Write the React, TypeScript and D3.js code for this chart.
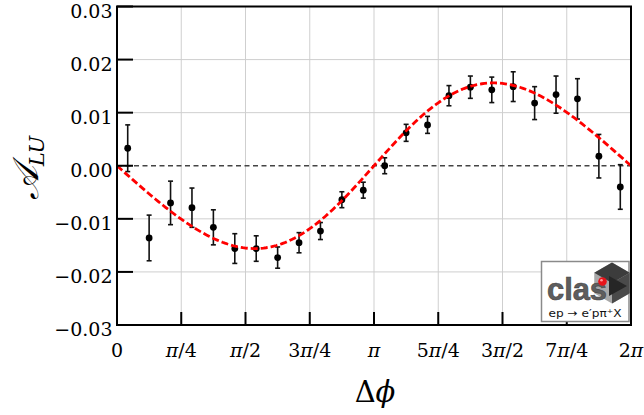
import React from "react";
import * as d3 from "d3";

// Bin centres in degrees
const binCentersDeg = [7.5, 22.5, 37.5, 52.5, 67.5, 82.5, 97.5, 112.5, 127.5, 142.5, 157.5, 172.5,
  187.5, 202.5, 217.5, 232.5, 247.5, 262.5, 277.5, 292.5, 307.5, 322.5, 337.5, 352.5];
const asymValues = [0.0033, -0.0136, -0.0070, -0.0079, -0.0116, -0.0156, -0.0156, -0.0173, -0.0145, -0.0123, -0.0064, -0.0046,
  0.0000, 0.0062, 0.0077, 0.0132, 0.0148, 0.0143, 0.0149, 0.0118, 0.0134, 0.0126, 0.0018, -0.0040];
const asymErrors = [0.0044, 0.0043, 0.0041, 0.0037, 0.0033, 0.0028, 0.0024, 0.0020, 0.0019, 0.0016, 0.0015, 0.0015,
  0.0015, 0.0016, 0.0016, 0.0019, 0.0021, 0.0024, 0.0028, 0.0031, 0.0035, 0.0038, 0.0041, 0.0042];
// Fit: A_LU = p1 sin(phi) + p2 sin(2 phi)
const fitParams = [-0.0155, 0.0009];

const yTicks = [0.03, 0.02, 0.01, 0.0, -0.01, -0.02, -0.03];
const yTickLabels = ["0.03", "0.02", "0.01", "0.00", "\u22120.01", "\u22120.02", "\u22120.03"];
const xTickNums = [0, 1, 2, 3, 4, 5, 6, 7, 8]; // multiples of pi/4
const xTickLabels: [string, string, string][] = [
  ["0", "", ""], ["", "\u03c0", "/4"], ["", "\u03c0", "/2"], ["3", "\u03c0", "/4"], ["", "\u03c0", ""],
  ["5", "\u03c0", "/4"], ["3", "\u03c0", "/2"], ["7", "\u03c0", "/4"], ["2", "\u03c0", ""],
];

const W = 644, H = 415;
const L = 117, R = 631, T = 6.5, B = 325;
const serif = "'DejaVu Serif', 'Liberation Serif', 'Times New Roman', serif";
const sans = "'Liberation Sans', Arial, sans-serif";

export default function App() {
  const x = d3.scaleLinear().domain([0, 2 * Math.PI]).range([L, R]);
  const y = d3.scaleLinear().domain([-0.03, 0.03]).range([B, T]);

  const fitPts = d3.range(0, 201).map((i) => (i / 200) * 2 * Math.PI);
  const fitLine = d3.line<number>()
    .x((p) => x(p))
    .y((p) => y(fitParams[0] * Math.sin(p) + fitParams[1] * Math.sin(2 * p)));

  const pts = binCentersDeg.map((d, i) => ({ phi: (d * Math.PI) / 180, v: asymValues[i], e: asymErrors[i] }));

  // logo geometry
  const hx = 612, hy = 283, hr = 20.5;
  const hex = d3.range(6).map((k) => {
    const a = ((-90 + 60 * k) * Math.PI) / 180;
    return [hx + hr * Math.cos(a), hy + hr * Math.sin(a)];
  });
  const poly = (p: number[][]) => p.map((q) => q.join(",")).join(" ");

  const serifStyle = { fontFamily: serif };

  return (
    <div style={{ position: "absolute", left: 0, top: 0 }}>
      <svg width={W} height={H} style={{ display: "block", background: "#fff" }}>
        {/* grid */}
        {xTickNums.slice(1, -1).map((k) => (
          <line key={"gx" + k} x1={x((k * Math.PI) / 4)} x2={x((k * Math.PI) / 4)} y1={T} y2={B} stroke="#cfcfcf" strokeWidth={1} />
        ))}
        {yTicks.filter((v) => v !== 0 && Math.abs(v) < 0.029).map((v) => (
          <line key={"gy" + v} x1={L} x2={R} y1={y(v)} y2={y(v)} stroke="#cfcfcf" strokeWidth={1} />
        ))}
        {/* zero line */}
        <line x1={L} x2={R} y1={y(0)} y2={y(0)} stroke="#444" strokeWidth={1.5} strokeDasharray="5,3.5" />

        {/* data */}
        {pts.map((p, i) => (
          <g key={"p" + i} stroke="#111" strokeWidth={1.6}>
            <line x1={x(p.phi)} x2={x(p.phi)} y1={y(p.v - p.e)} y2={y(p.v + p.e)} />
            <line x1={x(p.phi) - 2.5} x2={x(p.phi) + 2.5} y1={y(p.v - p.e)} y2={y(p.v - p.e)} />
            <line x1={x(p.phi) - 2.5} x2={x(p.phi) + 2.5} y1={y(p.v + p.e)} y2={y(p.v + p.e)} />
            <circle cx={x(p.phi)} cy={y(p.v)} r={3.4} fill="#000" stroke="none" />
          </g>
        ))}

        {/* fit */}
        <path d={fitLine(fitPts) || ""} fill="none" stroke="#ff0000" strokeWidth={2.8} strokeDasharray="7,3" />

        {/* ticks */}
        {yTicks.map((v) => (
          <line key={"ty" + v} x1={L} x2={L + 16} y1={y(v)} y2={y(v)} stroke="#000" strokeWidth={2} />
        ))}
        {xTickNums.map((k) => (
          <line key={"tx" + k} x1={x((k * Math.PI) / 4)} x2={x((k * Math.PI) / 4)} y1={B} y2={B - 13} stroke="#000" strokeWidth={2} />
        ))}

        {/* logo */}
        <rect x={541.5} y={261.5} width={87.5} height={60} fill="#fff" stroke="#8a8a8a" strokeWidth={1.5} />
        <polygon points={poly(hex)} fill="#a8a8a8" />
        <polygon points={poly([hex[0], hex[1], [hx, hy], hex[5]])} fill="#3c3c3c" />
        <polygon points={poly([hex[1], hex[2], hex[3], [hx, hy]])} fill="#4a4a4a" />
        <polygon points={poly([[hx - 3, hy - 7], [hx + 15, hy + 3], [hx - 3, hy + 13]])} fill="#262626" />
        <text x={547} y={300} style={{ fontFamily: sans }} fontSize={31} fontWeight={700}
          fill="#5e5e5e" stroke="#444" strokeWidth={0.6} textLength={60} lengthAdjust="spacingAndGlyphs">clas</text>
        <circle cx={602.5} cy={281.5} r={4.3} fill="#e8141a" />
        <circle cx={601.5} cy={280.3} r={1.3} fill="#ff9a9a" />
        <text x={548.5} y={316.5} style={{ fontFamily: "'DejaVu Sans', sans-serif" }} fontSize={10.5} fill="#111"
          textLength={73} lengthAdjust="spacingAndGlyphs">ep → e′pπ⁺X</text>

        {/* frame */}
        <rect x={L} y={T} width={R - L} height={B - T} fill="none" stroke="#000" strokeWidth={2} />

        {/* y tick labels */}
        {yTicks.map((v, i) => (
          <text key={"ly" + v} x={112.5} y={y(v) + 11} textAnchor="end" style={serifStyle} fontSize={19}
            fill="#000">{yTickLabels[i]}</text>
        ))}
        {/* x tick labels */}
        {xTickNums.map((k, i) => (
          <text key={"lx" + k} x={x((k * Math.PI) / 4)} y={356.5} textAnchor="middle" style={serifStyle} fontSize={19} fill="#000">
            <tspan>{xTickLabels[i][0]}</tspan>
            <tspan fontStyle="italic">{xTickLabels[i][1]}</tspan>
            <tspan>{xTickLabels[i][2]}</tspan>
          </text>
        ))}

        {/* axis titles */}
        <text x={375} y={402} textAnchor="middle" style={serifStyle} fontSize={29} fill="#000">
          <tspan>Δ</tspan><tspan fontStyle="italic">ϕ</tspan>
        </text>
        <g transform="translate(38,168) rotate(-90)">
          <text x={0} y={0} textAnchor="middle" style={serifStyle} fill="#000">
            <tspan fontSize={36} fontStyle="italic">𝒜</tspan>
            <tspan fontSize={21} fontStyle="italic" dy={6}>LU</tspan>
          </text>
        </g>
      </svg>
    </div>
  );
}
